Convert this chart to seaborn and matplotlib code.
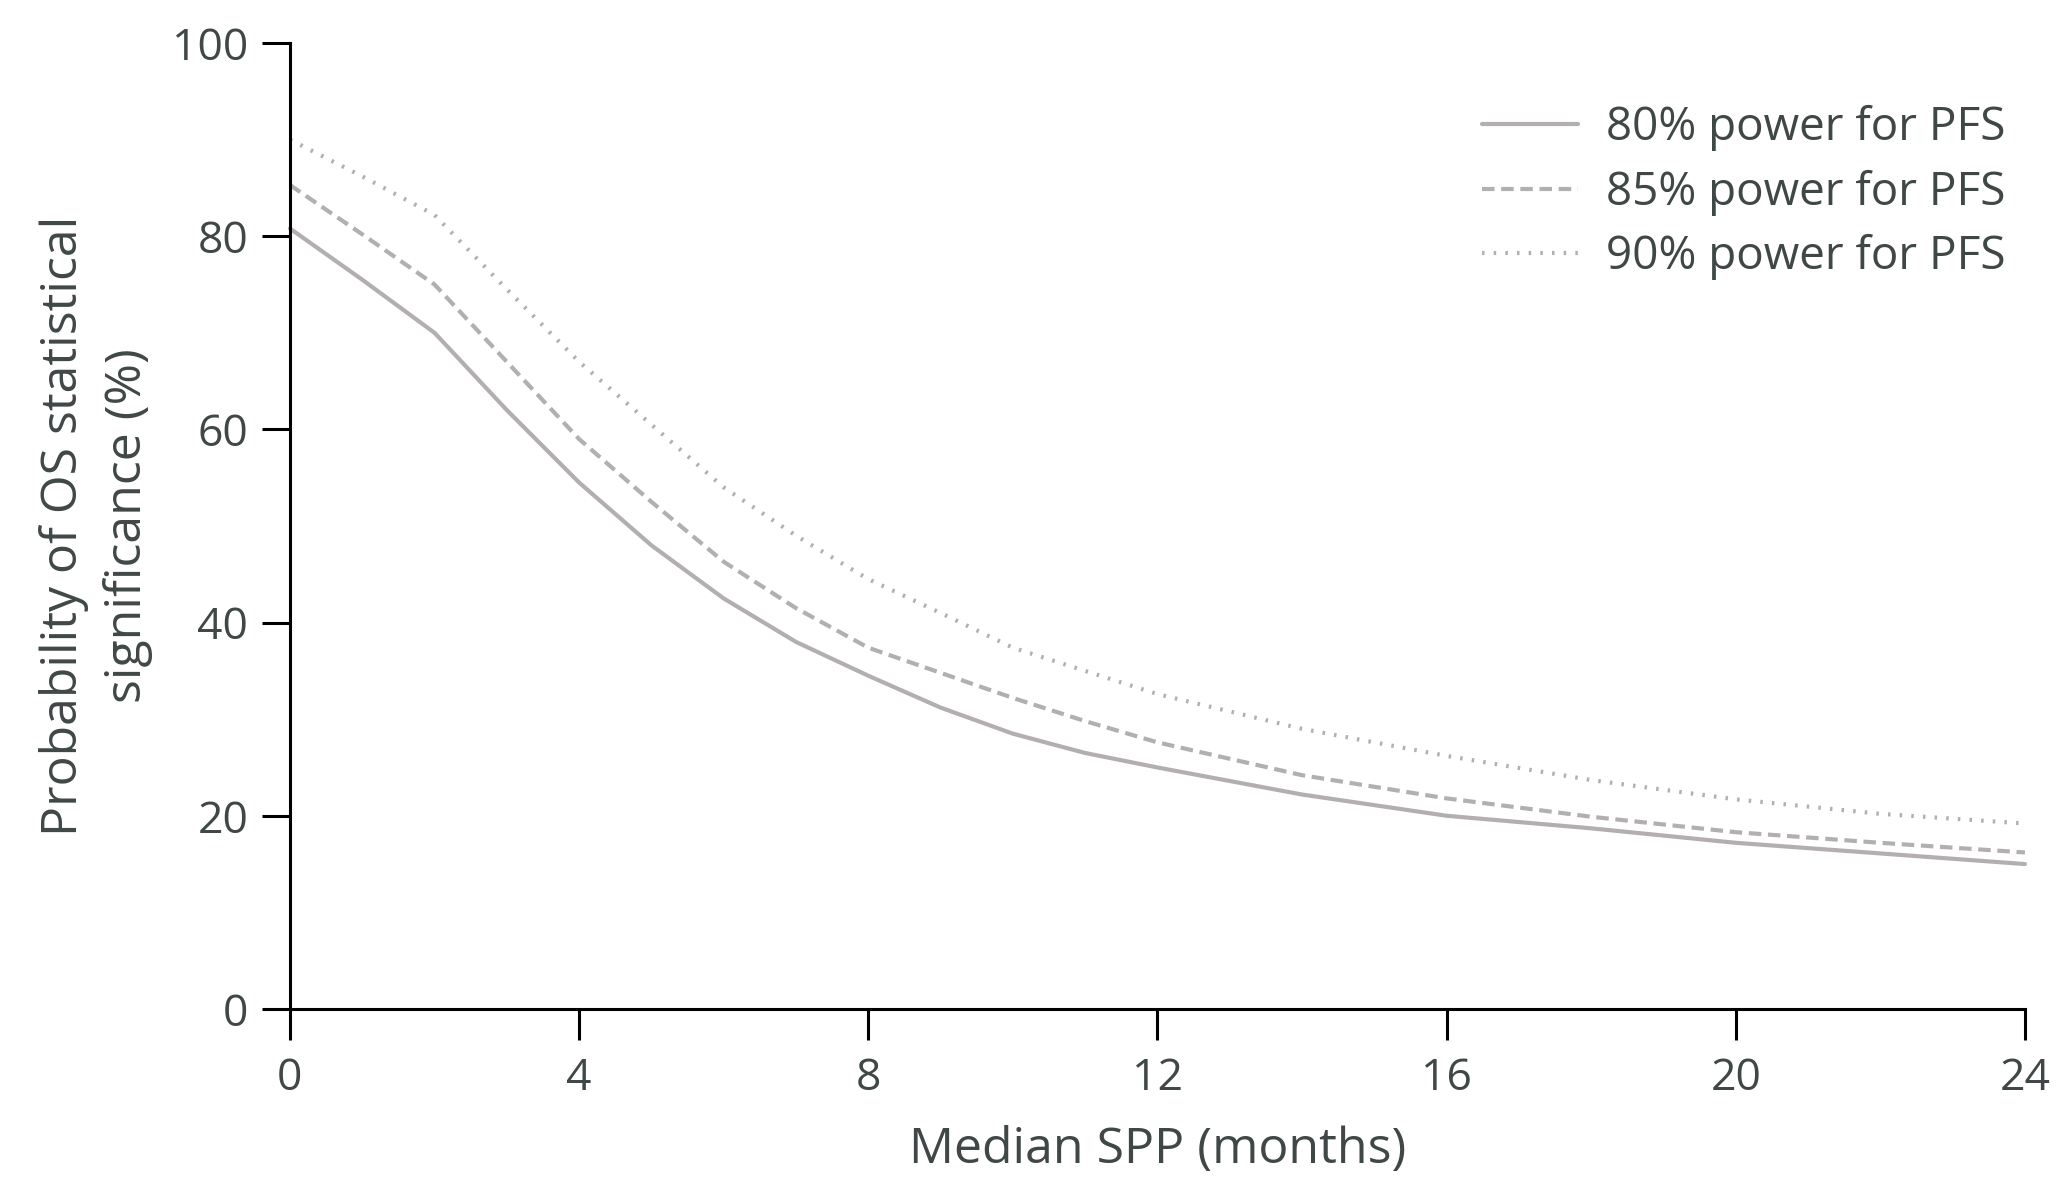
import pandas as pd
import seaborn as sns
import matplotlib.pyplot as plt

# median SPP (months) and probability of OS significance (%)
months = [0, 1, 2, 3, 4, 5, 6, 7, 8, 9, 10, 11, 12, 14, 16, 18, 20, 22, 24]
power80 = [80.8, 75.5, 70.0, 62.0, 54.5, 48.0, 42.5, 38.0, 34.5, 31.2, 28.5, 26.5, 25.0, 22.2, 20.0, 18.7, 17.2, 16.1, 15.0]
power85 = [85.3, 80.2, 75.0, 67.0, 59.0, 52.5, 46.3, 41.5, 37.4, 34.8, 32.2, 29.8, 27.6, 24.2, 21.8, 19.9, 18.3, 17.2, 16.2]
power90 = [90.0, 86.2, 82.2, 74.5, 67.0, 60.5, 54.0, 49.0, 44.5, 41.0, 37.4, 35.0, 32.6, 29.0, 26.2, 23.7, 21.7, 20.2, 19.2]
labels = ["80% power for PFS", "85% power for PFS", "90% power for PFS"]

df = pd.concat([
    pd.DataFrame({"month": months, "prob": vals, "power": lab})
    for vals, lab in zip([power80, power85, power90], labels)
])

sns.set_style("ticks")
plt.rcParams["font.family"] = ["Open Sans", "DejaVu Sans"]
txt = "#3f4747"
line_col = "#b3afaf"

fig = plt.figure(figsize=(20.65, 11.82), dpi=100)
ax = fig.add_axes([0.1404, 0.1464, 0.8402, 0.8172])

sns.lineplot(data=df, x="month", y="prob", hue="power", style="power",
             palette=[line_col] * 3,
             dashes={labels[0]: "", labels[1]: (3, 1.6), labels[2]: (0.6, 2.2)},
             linewidth=3, ax=ax, clip_on=False)

ax.set_xlim(0, 24)
ax.set_ylim(0, 100)
ax.set_xticks([0, 4, 8, 12, 16, 20, 24])
ax.set_yticks([0, 20, 40, 60, 80, 100])
for s in ["top", "right"]:
    ax.spines[s].set_visible(False)
for s in ["left", "bottom"]:
    ax.spines[s].set_linewidth(2.2)
    ax.spines[s].set_color("black")
ax.tick_params(axis="both", length=20, width=2.2, color="black",
               labelsize=32, labelcolor=txt, pad=10)
ax.tick_params(axis="x", length=22, pad=12)

ax.set_xlabel("Median SPP (months)", fontsize=36, color=txt, labelpad=18)
ax.set_ylabel("Probability of OS statistical\nsignificance (%)", fontsize=36,
              color=txt, labelpad=14, linespacing=1.37)

leg = ax.legend(frameon=False, loc="upper right", bbox_to_anchor=(0.991, 0.946),
                bbox_transform=fig.transFigure, fontsize=33, handlelength=2.1,
                handletextpad=0.6, labelspacing=0.4)
for t in leg.get_texts():
    t.set_color(txt)
for h in leg.get_lines():
    h.set_linewidth(3)

fig.savefig("out.png", dpi=100)
